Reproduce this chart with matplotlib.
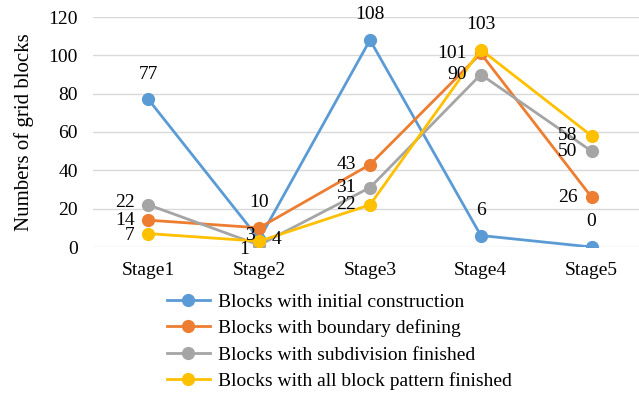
import matplotlib.pyplot as plt

plt.rcParams['font.family'] = ['Liberation Serif', 'DejaVu Serif']

stages = ['Stage1', 'Stage2', 'Stage3', 'Stage4', 'Stage5']
initial = [77, 4, 108, 6, 0]
boundary = [14, 10, 43, 101, 26]
subdivision = [22, 1, 31, 90, 50]
all_pattern = [7, 3, 22, 103, 58]

# label placement per point: (dx, dy) in points, ha, va
UP = (0, 12, 'center', 'bottom')
LEFT = (-10, 0, 'right', 'center')
RIGHT = (9, 0, 'left', 'center')

series = [
    ('Blocks with initial construction', initial, '#5B9BD5',
     [UP, RIGHT, UP, UP, UP]),
    ('Blocks with boundary defining', boundary, '#ED7D31',
     [LEFT, UP, LEFT, LEFT, LEFT]),
    ('Blocks with subdivision finished', subdivision, '#A5A5A5',
     [(-10, 1.5, 'right', 'center'), (-7, -3, 'right', 'center'), LEFT, LEFT, LEFT]),
    ('Blocks with all block pattern finished', all_pattern, '#FFC000',
     [(-10, -1.5, 'right', 'center'), (-3, 4, 'right', 'center'), LEFT, UP, LEFT]),
]

fig = plt.figure(figsize=(6.39, 3.94), dpi=100)
ax = fig.add_axes([93 / 639, 147 / 394, 554 / 639, 230 / 394])

x = list(range(len(stages)))

for name, vals, col, pos in series:
    ax.plot(x, vals, color=col, lw=2, marker='o', ms=8.5, label=name, zorder=3)
    for xi, v, (dx, dy, ha, va) in zip(x, vals, pos):
        ax.annotate(str(v), (xi, v), xytext=(dx, dy), textcoords='offset points',
                    ha=ha, va=va, fontsize=14, color='black', zorder=5)

ax.set_xlim(-0.5, 4.5)
ax.set_ylim(0, 120)
ax.set_yticks(range(0, 121, 20))
ax.set_xticks(x)
ax.set_xticklabels(stages)
ax.tick_params(length=0, labelsize=14)
ax.tick_params(axis='x', pad=11)
ax.tick_params(axis='y', pad=11)
ax.grid(axis='y', color='#D9D9D9', lw=1)
ax.set_axisbelow(True)
for s in ax.spines.values():
    s.set_visible(False)
ax.set_ylabel('Numbers of grid blocks', fontsize=15, labelpad=10)

fig.legend(loc='upper left', bbox_to_anchor=(167 / 639, 1 - 293 / 394),
           frameon=False, fontsize=14, handlelength=2.2, labelspacing=0.45,
           handletextpad=0.4, borderaxespad=0, borderpad=0)

fig.savefig('out.png', dpi=100)
